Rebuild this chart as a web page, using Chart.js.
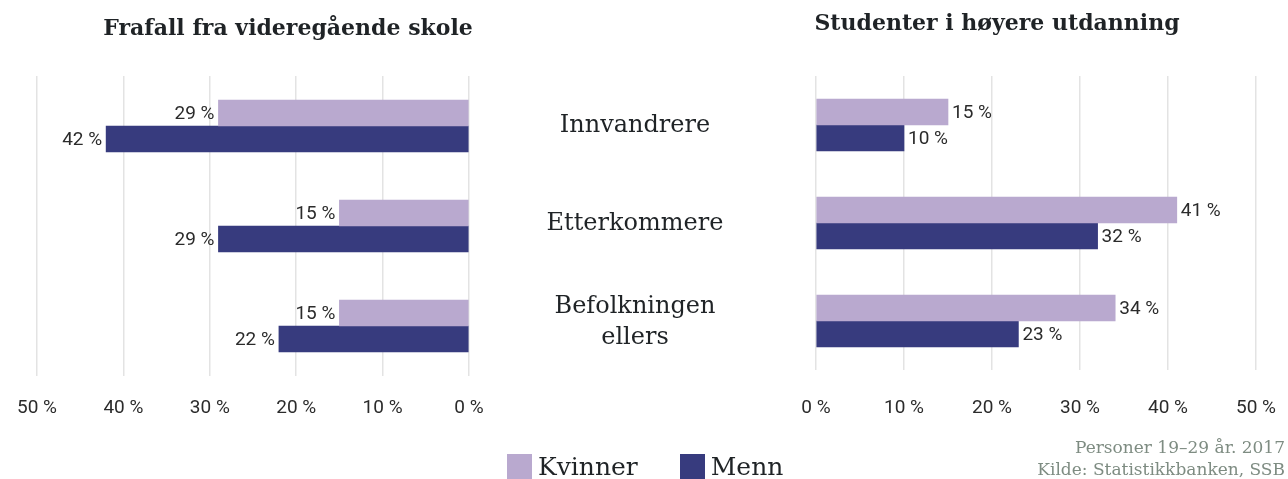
<!DOCTYPE html>
<html lang="no">
<head>
<meta charset="utf-8">
<title>Frafall og studenter</title>
<script src="https://cdn.jsdelivr.net/npm/chart.js@4.4.1/dist/chart.umd.min.js"></script>
<style>
  html, body { margin: 0; padding: 0; background: #fff; }
  .wrap { position: relative; width: 1288px; height: 479px; overflow: hidden; }
  .wrap canvas { position: absolute; left: 0; top: 0; }
  .title {
    position: absolute; transform: translate(-50%, -50%);
    font: bold 22px "DejaVu Serif", serif; color: #1f2326; white-space: nowrap;
  }
  #legend {
    position: absolute; left: 507px; top: 452px; display: flex; align-items: center;
    font: 25px "DejaVu Serif", serif; color: #1f2326;
  }
  #legend .item { display: flex; align-items: center; margin-right: 42px; }
  #legend .box { width: 25px; height: 25px; margin-right: 6px; }
  .source {
    position: absolute; right: 3px; top: 436px; text-align: right;
    font: 17px "DejaVu Serif", serif; color: #7e8c82; line-height: 22px;
  }
</style>
</head>
<body>
<div class="wrap">
  <canvas id="leftChart" width="1288" height="479"></canvas>
  <canvas id="rightChart" width="1288" height="479"></canvas>
  <div class="title" style="left:288px; top:27px;">Frafall fra videregående skole</div>
  <div class="title" style="left:997px; top:22px;">Studenter i høyere utdanning</div>
  <div id="legend"></div>
  <div class="source">Personer 19–29 år. 2017<br>Kilde: Statistikkbanken, SSB</div>
</div>
<script>
  const categories = ["Innvandrere", "Etterkommere", ["Befolkningen", "ellers"]];
  const seriesNames = ["Kvinner", "Menn"];
  const seriesColors = ["#b9a9cf", "#373b7e"];

  // Frafall fra videregående skole (%)
  const dropoutWomen = [29, 15, 15];
  const dropoutMen = [42, 29, 22];

  // Studenter i høyere utdanning (%)
  const studentWomen = [15, 41, 34];
  const studentMen = [10, 32, 23];

  const axisMin = 0;
  const axisMax = 50;
  const axisStep = 10;

  const tickFont = { family: "Roboto", size: 19, weight: "normal" };

  function makeDatasets(women, men) {
    return [women, men].map((values, i) => ({
      label: seriesNames[i],
      data: values,
      backgroundColor: seriesColors[i],
      borderWidth: 0,
      barThickness: 26,
    }));
  }

  // value labels at the end of each bar
  const valueLabels = {
    id: "valueLabels",
    afterDatasetsDraw(chart) {
      const ctx = chart.ctx;
      const reversed = chart.options.scales.x.reverse;
      ctx.save();
      ctx.font = "19px Roboto";
      ctx.fillStyle = "#2b2b2b";
      ctx.textBaseline = "middle";
      ctx.textAlign = reversed ? "right" : "left";
      chart.data.datasets.forEach((ds, di) => {
        chart.getDatasetMeta(di).data.forEach((bar, i) => {
          const text = ds.data[i] + " %";
          const x = reversed ? bar.x - 4 : bar.x + 4;
          ctx.fillText(text, x, bar.y + 1);
        });
      });
      ctx.restore();
    },
  };

  // category names in the middle between the two charts
  const centerLabels = {
    id: "centerLabels",
    afterDraw(chart) {
      const ctx = chart.ctx;
      const yScale = chart.scales.y;
      ctx.save();
      ctx.font = "24px 'DejaVu Serif'";
      ctx.fillStyle = "#1f2326";
      ctx.textAlign = "center";
      ctx.textBaseline = "middle";
      categories.forEach((label, i) => {
        const lines = Array.isArray(label) ? label : [label];
        const y = yScale.getPixelForValue(i);
        const lh = 31;
        lines.forEach((line, j) => {
          ctx.fillText(line, 635, y + (j - (lines.length - 1) / 2) * lh + 1);
        });
      });
      ctx.restore();
    },
  };

  function makeOptions({ reverse, padLeft, padRight, axisHeight, tickPad }) {
    return {
      indexAxis: "y",
      responsive: false,
      animation: false,
      layout: { padding: { left: padLeft, right: padRight, top: 76, bottom: 0 } },
      plugins: {
        legend: { display: false },
        tooltip: { enabled: false },
      },
      scales: {
        x: {
          type: "linear",
          reverse,
          min: axisMin,
          max: axisMax,
          border: { display: false },
          grid: { color: "#e3e3e3", lineWidth: 1.5, drawTicks: false },
          ticks: {
            stepSize: axisStep,
            color: "#2b2b2b",
            font: tickFont,
            padding: tickPad,
            maxRotation: 0,
            callback: (v) => v + " %",
          },
          afterFit(scale) {
            scale.height = axisHeight;
            scale.paddingLeft = 0;
            scale.paddingRight = 0;
          },
        },
        y: {
          type: "category",
          display: false,
          offset: true,
        },
      },
    };
  }

  const leftChart = new Chart(document.getElementById("leftChart"), {
    type: "bar",
    data: { labels: categories, datasets: makeDatasets(dropoutWomen, dropoutMen) },
    options: makeOptions({ reverse: true, padLeft: 37, padRight: 819, axisHeight: 103, tickPad: 21 }),
    plugins: [valueLabels],
  });

  const rightChart = new Chart(document.getElementById("rightChart"), {
    type: "bar",
    data: { labels: categories, datasets: makeDatasets(studentWomen, studentMen) },
    options: makeOptions({ reverse: false, padLeft: 816, padRight: 32, axisHeight: 109, tickPad: 27 }),
    plugins: [valueLabels, centerLabels],
  });

  // html legend from the dataset colours
  const legendEl = document.getElementById("legend");
  leftChart.data.datasets.forEach((ds) => {
    const item = document.createElement("div");
    item.className = "item";
    const box = document.createElement("span");
    box.className = "box";
    box.style.background = ds.backgroundColor;
    const txt = document.createElement("span");
    txt.textContent = ds.label;
    item.append(box, txt);
    legendEl.appendChild(item);
  });
</script>
</body>
</html>
